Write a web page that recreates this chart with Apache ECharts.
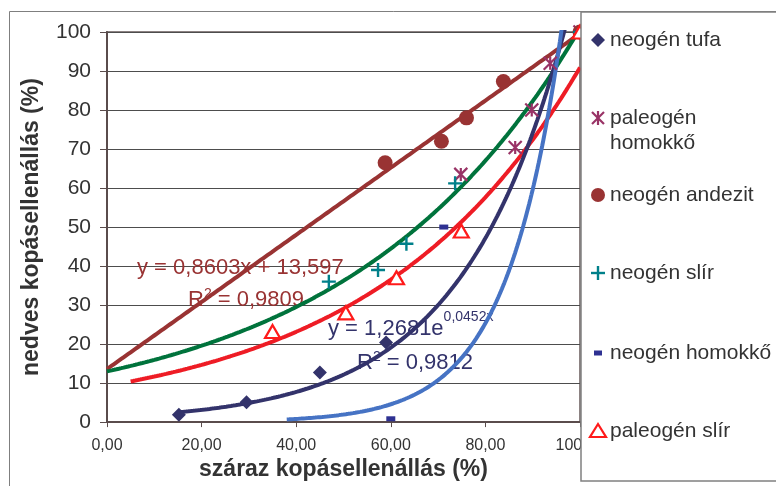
<!DOCTYPE html>
<html>
<head>
<meta charset="utf-8">
<script src="https://cdn.jsdelivr.net/npm/echarts@6/dist/echarts.min.js"></script>
<style>
  html, body { margin: 0; padding: 0; background: #ffffff; }
  #chart { width: 776px; height: 486px; }
</style>
</head>
<body>
<div id="chart"></div>
<script>
// Measured points: dry abrasion resistance (x, %) vs wet abrasion resistance (y, %)
const tufaX       = [15.2, 29.5, 45.0, 59.0, 100];
const tufaY       = [1.9, 5.1, 12.7, 20.4, 100];
const paleoHomX   = [74.8, 86.3, 89.8, 93.7, 100];
const paleoHomY   = [63.5, 70.4, 80.0, 92.0, 100];
const andezitX    = [58.8, 70.7, 76.0, 83.8, 100];
const andezitY    = [66.5, 72.0, 78.0, 87.3, 100];
const slirX       = [46.9, 57.3, 63.3, 73.6, 100];
const slirY       = [36.0, 39.0, 45.7, 61.2, 100];
const homokkoX    = [60.0, 71.2, 100];
const homokkoY    = [0.85, 50.0, 100];
const paleoSlirX  = [35.0, 50.5, 61.2, 74.9, 100];
const paleoSlirY  = [23.2, 28.0, 37.0, 49.0, 100];

const seriesNames = ['neogén tufa', 'paleogén homokkő', 'neogén andezit',
                     'neogén slír', 'neogén homokkő', 'paleogén slír'];

// Trendline coefficients: linear [slope, intercept], exponential [a, b] for y = a·e^(b·x)
const andezitTrend   = [0.8603, 13.597];
const tufaTrend      = [1.2681, 0.0452];
const slirTrend      = [13.0, 0.0205];
const paleoSlirTrend = [9.3, 0.0228];
const homokkoTrend   = [0.0269, 0.0856];
// x-range covered by each trendline
const andezitRange   = [0, 100];
const tufaRange      = [15.2, 100];
const slirRange      = [0, 100];
const paleoSlirRange = [5, 100];
const homokkoRange   = [38, 100];

// Axis ticks
const xTicks = [0, 20, 40, 60, 80, 100];
const yTicks = [0, 10, 20, 30, 40, 50, 60, 70, 80, 90, 100];

const FONT = '"Liberation Sans", Arial, sans-serif';

function pairs(xs, ys) { return xs.map((x, i) => [x, ys[i]]); }
function linearLine(c, r) {
  const out = [];
  for (let x = r[0]; x <= r[1] + 1e-9; x += 0.5) out.push([x, c[0] * x + c[1]]);
  return out;
}
function expLine(c, r) {
  const out = [];
  for (let x = r[0]; x <= r[1] + 1e-9; x += 0.25) out.push([x, c[0] * Math.exp(c[1] * x)]);
  return out;
}

const C = {
  tufa: '#33336b',
  paleoHom: '#993366',
  andezit: '#993333',
  slir: '#00808a',
  homokko: '#2e3192',
  paleoSlir: '#ff1a1a',
  trendSlir: '#00733c',
  trendPaleoSlir: '#ee1c25',
  trendHomokko: '#4673c4'
};

const asteriskPath = 'path://M7,0 L7,14 M0,0 L14,14 M0,14 L14,0';
const plusPath = 'path://M7,0 L7,14 M0,7 L14,7';

function trend(data, color, width) {
  return {
    type: 'line', data: data, showSymbol: false, symbol: 'none', silent: true,
    smooth: false, clip: true, z: 2, animation: false,
    lineStyle: { color: color, width: width, opacity: 1 }
  };
}
function scatter(name, data, opts) {
  return Object.assign({
    type: 'scatter', name: name, data: data, z: 3, animation: false, silent: true
  }, opts);
}

const chart = echarts.init(document.getElementById('chart'), null, { renderer: 'canvas' });

// Legend drawn as a boxed list on the right
const legendX = 598, legendTextX = 610;
const legendRows = [40, 118, 195, 273, 353, 431];
const legendItems = [
  { type: 'polygon', shape: { points: [[legendX, legendRows[0] - 7], [legendX + 7, legendRows[0]], [legendX, legendRows[0] + 7], [legendX - 7, legendRows[0]]] }, style: { fill: C.tufa } },
  { type: 'polyline', shape: { points: [[legendX - 6, legendRows[1] - 6], [legendX + 6, legendRows[1] + 6]] }, style: { stroke: C.paleoHom, lineWidth: 2.2 } },
  { type: 'polyline', shape: { points: [[legendX - 6, legendRows[1] + 6], [legendX + 6, legendRows[1] - 6]] }, style: { stroke: C.paleoHom, lineWidth: 2.2 } },
  { type: 'polyline', shape: { points: [[legendX, legendRows[1] - 7], [legendX, legendRows[1] + 7]] }, style: { stroke: C.paleoHom, lineWidth: 2.2 } },
  { type: 'circle', shape: { cx: legendX, cy: legendRows[2], r: 7 }, style: { fill: C.andezit } },
  { type: 'polyline', shape: { points: [[legendX - 7, legendRows[3]], [legendX + 7, legendRows[3]]] }, style: { stroke: C.slir, lineWidth: 2.4 } },
  { type: 'polyline', shape: { points: [[legendX, legendRows[3] - 7], [legendX, legendRows[3] + 7]] }, style: { stroke: C.slir, lineWidth: 2.4 } },
  { type: 'rect', shape: { x: legendX - 4, y: legendRows[4] - 2.5, width: 8, height: 5 }, style: { fill: C.homokko } },
  { type: 'polygon', shape: { points: [[legendX, legendRows[5] - 7], [legendX + 8, legendRows[5] + 6], [legendX - 8, legendRows[5] + 6]] }, style: { fill: '#fff', stroke: C.paleoSlir, lineWidth: 2.2 } }
];
const legendTexts = [
  { text: seriesNames[0], y: legendRows[0] },
  { text: 'paleogén\nhomokkő', y: legendRows[1], multi: true },
  { text: seriesNames[2], y: legendRows[2] },
  { text: seriesNames[3], y: legendRows[3] },
  { text: seriesNames[4], y: legendRows[4] },
  { text: seriesNames[5], y: legendRows[5] }
].map(t => ({
  type: 'text', x: legendTextX, y: t.multi ? t.y - 12.5 : t.y,
  style: {
    text: t.text, fill: '#333333', font: '21px ' + FONT,
    verticalAlign: t.multi ? 'top' : 'middle', align: 'left', lineHeight: 25
  }
}));

function eqRich(color) {
  return {
    m: { fontFamily: FONT, fontSize: 22, fill: color, lineHeight: 26 },
    s: { fontFamily: FONT, fontSize: 14, fill: color, verticalAlign: 'top', lineHeight: 14 }
  };
}

const option = {
  backgroundColor: '#ffffff',
  animation: false,
  grid: {
    left: 107, top: 32, right: 196, bottom: 62,
    show: true, borderColor: '#8c8282', borderWidth: 2, backgroundColor: 'transparent'
  },
  xAxis: {
    type: 'value', min: xTicks[0], max: xTicks[xTicks.length - 1], interval: 20,
    name: 'száraz kopásellenállás (%)', nameLocation: 'middle', nameGap: 27,
    nameTextStyle: { fontFamily: FONT, fontSize: 23, fontWeight: 'bold', color: '#333333' },
    axisLine: { show: true, onZero: false, lineStyle: { color: '#5a4c4c', width: 2 } },
    axisTick: { show: true, inside: false, length: 5, lineStyle: { color: '#5a4c4c', width: 1 } },
    axisLabel: {
      fontFamily: FONT, fontSize: 16, color: '#333333', margin: 15,
      formatter: v => v.toFixed(2).replace('.', ',')
    },
    splitLine: { show: false }
  },
  yAxis: {
    type: 'value', min: yTicks[0], max: yTicks[yTicks.length - 1], interval: 10,
    name: 'nedves kopásellenállás (%)', nameLocation: 'middle', nameGap: 64, nameRotate: 90,
    nameTextStyle: { fontFamily: FONT, fontSize: 23, fontWeight: 'bold', color: '#333333' },
    axisLine: { show: true, onZero: false, lineStyle: { color: '#5a4c4c', width: 2 } },
    axisTick: { show: true, inside: false, length: 7, lineStyle: { color: '#5a4c4c', width: 1 } },
    axisLabel: { fontFamily: FONT, fontSize: 21, color: '#333333', margin: 16 },
    splitLine: { show: true, lineStyle: { color: '#4d4d4d', width: 1 } }
  },
  series: [
    trend(linearLine(andezitTrend, andezitRange), C.andezit, 4),
    trend(expLine(slirTrend, slirRange), C.trendSlir, 4),
    trend(expLine(paleoSlirTrend, paleoSlirRange), C.trendPaleoSlir, 4),
    trend(expLine(tufaTrend, tufaRange), C.tufa, 4),
    trend(expLine(homokkoTrend, homokkoRange), C.trendHomokko, 4),

    scatter(seriesNames[0], pairs(tufaX, tufaY), { symbol: 'diamond', symbolSize: 14, itemStyle: { color: C.tufa, opacity: 1 } }),
    scatter(seriesNames[1], pairs(paleoHomX, paleoHomY), { symbol: asteriskPath, symbolSize: 13, itemStyle: { color: 'none', borderColor: C.paleoHom, borderWidth: 2.2, opacity: 1 } }),
    scatter(seriesNames[2], pairs(andezitX, andezitY), { symbol: 'circle', symbolSize: 15, itemStyle: { color: C.andezit, opacity: 1 } }),
    scatter(seriesNames[3], pairs(slirX, slirY), { symbol: plusPath, symbolSize: 14, itemStyle: { color: 'none', borderColor: C.slir, borderWidth: 2.4, opacity: 1 } }),
    scatter(seriesNames[4], pairs(homokkoX, homokkoY), { symbol: 'rect', symbolSize: [9, 5], itemStyle: { color: C.homokko, opacity: 1 } }),
    scatter(seriesNames[5], pairs(paleoSlirX, paleoSlirY), { symbol: 'triangle', symbolSize: [15, 13], itemStyle: { color: '#ffffff', borderColor: C.paleoSlir, borderWidth: 2.2, opacity: 1 } })
  ],
  graphic: [
    // outer chart frame
    { type: 'rect', z: 0, silent: true, shape: { x: 9.5, y: 11.5, width: 800, height: 500 }, style: { fill: 'none', stroke: '#7f7f7f', lineWidth: 1 } },
    // trendline equations
    { type: 'text', z: 1, x: 137, y: 268, silent: true, style: { text: 'y = 0,8603x + 13,597', fill: C.andezit, font: '22px ' + FONT, verticalAlign: 'middle' } },
    { type: 'text', z: 1, x: 188, y: 300, silent: true, style: {
        text: '{m|R}{s|2}{m| = 0,9809}', verticalAlign: 'middle', rich: eqRich(C.andezit) } },
    { type: 'text', z: 1, x: 328, y: 325, silent: true, style: {
        text: '{m|y = 1,2681e}{s|0,0452x}', verticalAlign: 'middle', rich: {
          m: { fontFamily: FONT, fontSize: 22, fill: C.tufa, lineHeight: 30, verticalAlign: 'bottom' },
          s: { fontFamily: FONT, fontSize: 14, fill: C.tufa, verticalAlign: 'top', lineHeight: 14 } } } },
    { type: 'text', z: 1, x: 357, y: 363, silent: true, style: {
        text: '{m|R}{s|2}{m| = 0,9812}', verticalAlign: 'middle', rich: eqRich(C.tufa) } },
    // legend box
    { type: 'rect', z: 10, silent: true, shape: { x: 581, y: 12, width: 220, height: 469 }, style: { fill: '#ffffff', stroke: '#808080', lineWidth: 1.5 } },
    { type: 'group', z: 11, silent: true, children: legendItems.concat(legendTexts).map(e => Object.assign({ z: 11 }, e)) }
  ]
};

chart.setOption(option);
</script>
</body>
</html>
